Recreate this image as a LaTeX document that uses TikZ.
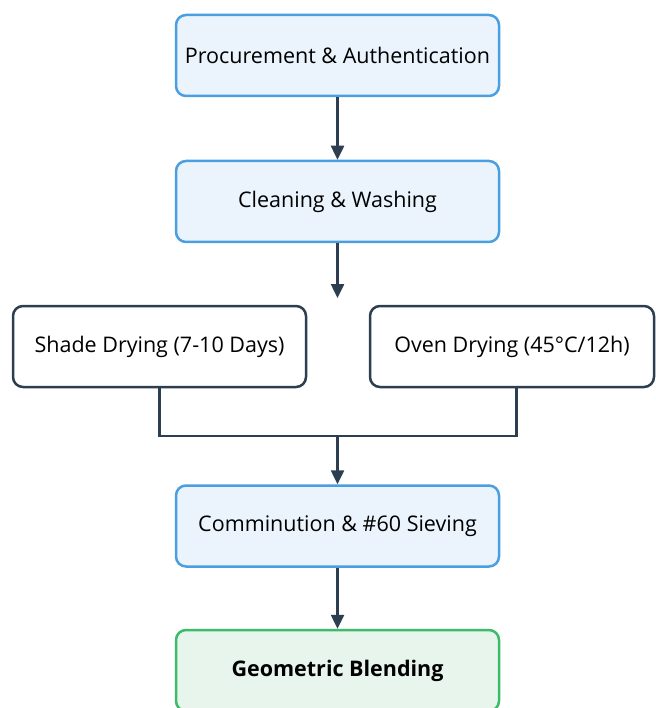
\documentclass[tikz,border=0pt]{standalone}
\usepackage{fontspec}
\setmainfont{Open Sans}
\usetikzlibrary{arrows.meta}
\definecolor{bluebd}{HTML}{4A9FE0}
\definecolor{bluefill}{HTML}{EBF4FC}
\definecolor{darkbd}{HTML}{2C3E50}
\definecolor{greenbd}{HTML}{3DBA6A}
\definecolor{greenfill}{HTML}{E8F5EC}
\tikzset{
  x=1pt, y=-1pt,
  boxbase/.style={draw, line width=2.5pt, rounded corners=10pt, align=center, inner sep=0pt,
    font=\fontsize{21.5}{25}\selectfont},
  bluebox/.style={boxbase, draw=bluebd, fill=bluefill, minimum width=323pt, minimum height=81pt},
  whitebox/.style={boxbase, draw=darkbd, fill=white, minimum height=81pt},
  greenbox/.style={boxbase, draw=greenbd, fill=greenfill, minimum width=323pt, minimum height=81pt, font=\fontsize{21.5}{25}\selectfont\bfseries},
  conn/.style={draw=darkbd, line width=2.5pt},
  arr/.style={conn, -{Triangle[length=14pt,width=13pt]}},
}
\begin{document}
\begin{tikzpicture}
\useasboundingbox (0,0) rectangle (655,708);
\node[bluebox] (proc) at (337.5,55.5) {Procurement \& Authentication};
\node[bluebox] (clean) at (337.5,201.5) {Cleaning \& Washing};
\node[whitebox, minimum width=293pt] (shade) at (159.5,346.5) {Shade Drying (7-10 Days)};
\node[whitebox, minimum width=284pt] (oven) at (512,346.5) {Oven Drying (45°C/12h)};
\node[bluebox] (comm) at (337.5,526) {Comminution \& \#60 Sieving};
\node[greenbox] (geo) at (337.5,670.5) {Geometric Blending};
\coordinate (cleanend) at (337.5,298);
\coordinate (join) at (337.5,436);
\coordinate (ovenout) at (516.5,388);
\draw[arr] (proc.south) -- (clean.north);
\draw[arr] (clean.south) -- (cleanend);
\draw[conn] (shade.south) |- (join) -| (ovenout);
\draw[arr] (join) -- (comm.north);
\draw[arr] (comm.south) -- (geo.north);
\end{tikzpicture}
\end{document}
